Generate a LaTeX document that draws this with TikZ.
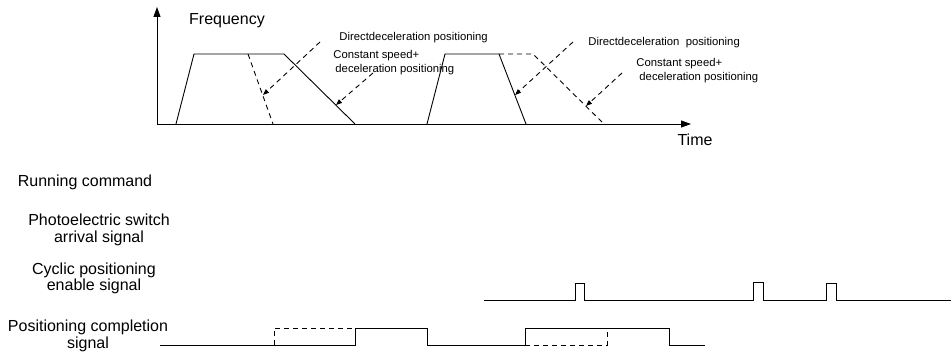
\documentclass[tikz,border=0pt]{standalone}
\usepackage{fontspec}
\setmainfont{Liberation Sans}
\usetikzlibrary{arrows.meta}
\begin{document}
\begin{tikzpicture}[x=1pt,y=-1pt, line width=0.9pt,
 big/.style={font=\fontsize{16}{16.5}\selectfont, inner sep=0pt, align=center},
 small/.style={font=\fontsize{11.3}{14}\selectfont, inner sep=0pt, anchor=west, align=left},
 dsh/.style={dash pattern=on 5pt off 4pt},
 ptr/.style={dsh,-{Triangle[length=6pt,width=4.5pt]}},
 axis/.style={-{Triangle[length=10pt,width=7pt]}}]
\useasboundingbox (0,0) rectangle (951,358);
% axes
\coordinate (O) at (157,124);
\coordinate (ytop) at (157,7);
\coordinate (xend) at (691,124);
\draw[axis] (O) -- (ytop);
\draw[axis] (O) -- (xend);
\node[big] (freq) at (227,21) {Frequency};
\node[big] (time) at (695,140) {Time};
% first profile
\draw (176,124) -- (194,54) -- (284,54) -- (355,124);
\draw[dsh] (248,54) -- (273,124);
% second profile
\draw (427,124) -- (445,54) -- (499,54) -- (526,124);
\draw[dsh] (499,54) -- (533,54) -- (604,124);
% annotations
\node[small] (dd1) at (339,38) {Directdeceleration positioning};
\node[small] (cs1) at (333,62.5) {Constant speed+\\\hspace*{2pt}deceleration positioning};
\node[small] (dd2) at (588,43) {Directdeceleration\ \ positioning};
\node[small] (cs2) at (636,70.5) {Constant speed+\\\hspace*{3pt}deceleration positioning};
\coordinate (a1s) at (320,42);  \coordinate (a1e) at (263,95);
\coordinate (a2s) at (373,73);  \coordinate (a2e) at (336,105);
\coordinate (a3s) at (573,42);  \coordinate (a3e) at (515,95);
\coordinate (a4s) at (622,73);  \coordinate (a4e) at (586,106);
\draw[ptr] (a1s) -- (a1e);
\draw[ptr] (a2s) -- (a2e);
\draw[ptr] (a3s) -- (a3e);
\draw[ptr] (a4s) -- (a4e);
% left labels
\node[big] (run) at (85,182) {Running command};
\node[big] (photo) at (99,230) {Photoelectric switch\\arrival signal};
\node[big] (cyc) at (94,278.5) {Cyclic positioning\\enable signal};
\node[big] (pos) at (88,336) {Positioning completion\\signal};
% cyclic enable signal
\draw (484,300) -- (575,300) -- (575,283) -- (584,283) -- (584,300) -- (753,300) -- (753,282) -- (763,282) -- (763,300) -- (826,300) -- (826,283) -- (836,283) -- (836,300) -- (951,300);
% positioning completion signal
\draw (160,345) -- (355,345) -- (355,328) -- (427,328) -- (427,345) -- (525,345) -- (525,328) -- (669,328) -- (669,345) -- (705,345);
\draw[dsh] (274,345) -- (274,328) -- (355,328);
\draw[dsh] (525,345) -- (607,345) -- (607,328);
\end{tikzpicture}
\end{document}
